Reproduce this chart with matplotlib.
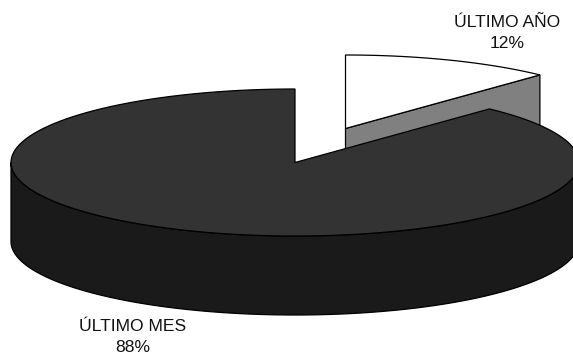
import numpy as np
import matplotlib
matplotlib.use("Agg")
import matplotlib.pyplot as plt
from matplotlib.patches import Polygon

plt.rcParams['font.family'] = ['Liberation Sans', 'DejaVu Sans']

# Share of each period, in percent
labels = ["ÚLTIMO MES", "ÚLTIMO AÑO"]
shares = [88, 12]

# Pie geometry in pixels
RX, RY = 284, 73.5
DEPTH = 79
MAIN_CENTER = (295, 162.5)
PULLED_CENTER = (345.5, 128.5)

TOP_DARK = "#333333"
SIDE_DARK = "#1a1a1a"
SIDE_GREY = "#808080"
EDGE = "#000000"


def rim(center, start, stop, n=200):
    """Points on the ellipse, angles measured clockwise from twelve o'clock."""
    t = np.radians(np.linspace(start, stop, n))
    return np.column_stack([center[0] + RX * np.sin(t), center[1] - RY * np.cos(t)])


def add_shape(ax, pts, color):
    ax.add_patch(Polygon(pts, closed=True, facecolor=color, edgecolor=EDGE, linewidth=0.9))


fig = plt.figure(figsize=(5.73, 3.54), dpi=100)
ax = fig.add_axes([0, 0, 1, 1])
ax.set_xlim(0, 573)
ax.set_ylim(354, 0)
ax.axis("off")

split = 360 * shares[1] / sum(shares)

# Pulled-out slice: cut face first, then its white top
apex = np.array(PULLED_CENTER, dtype=float)
end = rim(PULLED_CENTER, split, split, 1)[0]
down = np.array([0, DEPTH])
add_shape(ax, [apex, end, end + down, apex + down], SIDE_GREY)
add_shape(ax, np.vstack([[apex], rim(PULLED_CENTER, 0, split)]), "white")

# Large slice: outer wall over the front half, then the top
front = rim(MAIN_CENTER, 90, 270)
add_shape(ax, np.vstack([front, (front + down)[::-1]]), SIDE_DARK)
add_shape(ax, np.vstack([[MAIN_CENTER], rim(MAIN_CENTER, split, 360, 400)]), TOP_DARK)

ax.text(133, 337, f"{labels[0]}\n{shares[0]}%", ha="center", va="center",
        fontsize=12.6, color="#111111", linespacing=1.45)
ax.text(507, 33, f"{labels[1]}\n{shares[1]}%", ha="center", va="center",
        fontsize=12.6, color="#111111", linespacing=1.45)

fig.savefig("out.png", dpi=100, facecolor="white")
